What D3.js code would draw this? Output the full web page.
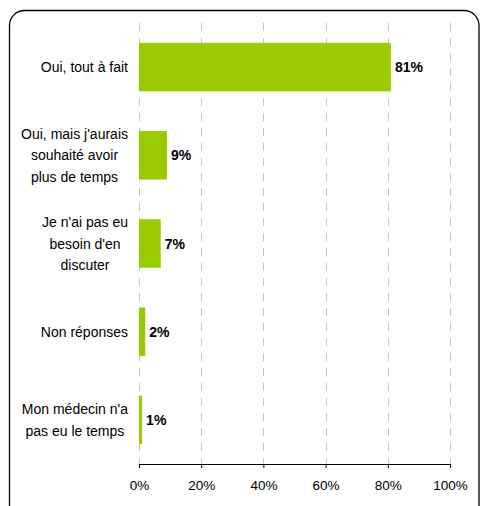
<!DOCTYPE html>
<html>
<head>
<meta charset="utf-8">
<script src="https://cdn.jsdelivr.net/npm/d3@7"></script>
<style>
  body { margin: 0; background: #fff; }
  svg { display: block; font-family: "Liberation Sans", Arial, sans-serif; }
</style>
</head>
<body>
<div id="chart"></div>
<script>
// data
const categories = [
  "Oui, tout à fait",
  "Oui, mais j'aurais\nsouhaité avoir\nplus de temps",
  "Je n'ai pas eu\nbesoin d'en\ndiscuter",
  "Non réponses",
  "Mon médecin n'a\npas eu le temps"
];
const values = [81, 9, 7, 2, 1];
const ticks = [0, 20, 40, 60, 80, 100];

const W = 480, H = 506;

const svg = d3.select("#chart").append("svg")
  .attr("width", W)
  .attr("height", H);

// frame
svg.append("rect")
  .attr("x", 9.5).attr("y", 10.5)
  .attr("width", 469.5).attr("height", 512)
  .attr("rx", 15).attr("ry", 15)
  .attr("fill", "none")
  .attr("stroke", "#000")
  .attr("stroke-width", 1.3);

const x = d3.scaleLinear().domain([0, 100]).range([139, 450]);
const y = d3.scaleBand()
  .domain(categories)
  .range([23, 464])
  .paddingInner(0.45)
  .paddingOuter(0.225);

// gridlines
svg.append("g").selectAll("line")
  .data(ticks)
  .join("line")
  .attr("x1", d => Math.round(x(d)) + 0.5)
  .attr("x2", d => Math.round(x(d)) + 0.5)
  .attr("y1", 23)
  .attr("y2", 464)
  .attr("stroke", "#c4c4c4")
  .attr("stroke-dasharray", "8,7");

// bars
svg.append("g").selectAll("rect")
  .data(values)
  .join("rect")
  .attr("x", x(0))
  .attr("y", (d, i) => y(categories[i]))
  .attr("width", d => x(d) - x(0))
  .attr("height", y.bandwidth())
  .attr("fill", "#99cc00");

// value labels
svg.append("g").selectAll("text")
  .data(values)
  .join("text")
  .attr("x", d => x(d) + 4)
  .attr("y", (d, i) => y(categories[i]) + y.bandwidth() / 2)
  .attr("dy", "0.36em")
  .attr("font-size", "14px")
  .attr("font-weight", "bold")
  .attr("fill", "#000")
  .text(d => d + "%");

// category labels, lines centered, block right-aligned
const lineH = 21.5;
categories.forEach(c => {
  const lines = c.split("\n");
  const g = svg.append("g");
  const texts = lines.map((ln, j) => g.append("text")
    .attr("font-size", "14px")
    .attr("fill", "#000")
    .attr("text-anchor", "middle")
    .attr("y", y(c) + y.bandwidth() / 2 + (j - (lines.length - 1) / 2) * lineH)
    .attr("dy", "0.36em")
    .text(ln));
  const maxW = d3.max(texts, t => t.node().getComputedTextLength());
  texts.forEach(t => t.attr("x", 128 - maxW / 2));
});

// x axis
const xAxis = d3.axisBottom(x)
  .tickValues(ticks)
  .tickSize(4)
  .tickSizeOuter(0)
  .tickPadding(12)
  .tickFormat(d => d + "%");

const axisG = svg.append("g")
  .attr("transform", "translate(0,464)")
  .call(xAxis);
axisG.select(".domain").attr("stroke", "#000");
axisG.selectAll(".tick line").attr("stroke", "#000");
axisG.selectAll(".tick text")
  .attr("font-size", "13.5px")
  .attr("font-family", "Liberation Sans, Arial, sans-serif")
  .attr("fill", "#000");
</script>
</body>
</html>
